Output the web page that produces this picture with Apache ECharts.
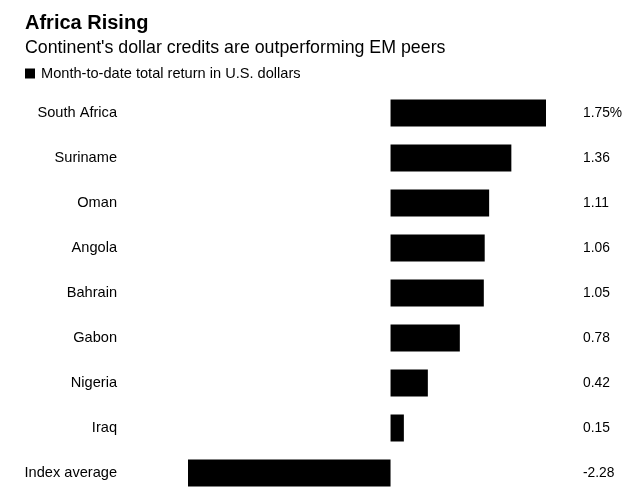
<!DOCTYPE html>
<html>
<head>
<meta charset="utf-8">
<script src="https://cdn.jsdelivr.net/npm/echarts@6/dist/echarts.min.js"></script>
<style>
html,body{margin:0;padding:0;background:#fff;}
#c{width:633px;height:502px;}
</style>
</head>
<body>
<div id="c"></div>
<script>
const categories = ["South Africa","Suriname","Oman","Angola","Bahrain","Gabon","Nigeria","Iraq","Index average"];
const values = [1.75,1.36,1.11,1.06,1.05,0.78,0.42,0.15,-2.28];
const valueLabels = ["1.75%","1.36","1.11","1.06","1.05","0.78","0.42","0.15","-2.28"];
const seriesName = "Month-to-date total return in U.S. dollars";

const chart = echarts.init(document.getElementById('c'));
const font = 'Liberation Sans, Arial, Helvetica, sans-serif';
chart.setOption({
  backgroundColor: '#fff',
  animation: false,
  title: [
    {text: 'Africa Rising', left: 20, top: 8, textStyle: {fontFamily: font, fontSize: 20, fontWeight: 'bold', color: '#000'}},
    {text: "Continent's dollar credits are outperforming EM peers", left: 20, top: 34, textStyle: {fontFamily: font, fontSize: 17.8, fontWeight: 'normal', color: '#000'}}
  ],
  legend: {
    left: 20, top: 61, itemWidth: 10, itemHeight: 10,
    icon: 'rect',
    textStyle: {fontFamily: font, fontSize: 14.6, color: '#000', padding: [0,0,0,1]},
    data: [seriesName]
  },
  grid: {left: 188, top: 90.5, width: 358, height: 405},
  xAxis: {type: 'value', min: -2.28, max: 1.75, show: false},
  yAxis: [
    {type: 'category', data: categories, inverse: true, position: 'left',
     axisLine: {show: false}, axisTick: {show: false}, splitLine: {show: false},
     axisLabel: {margin: 71, fontFamily: font, fontSize: 14.6, color: '#000'}},
    {type: 'category', data: valueLabels, inverse: true, position: 'right',
     axisLine: {show: false}, axisTick: {show: false}, splitLine: {show: false},
     axisLabel: {margin: 37, fontFamily: font, fontSize: 13.8, color: '#000', align: 'left'}}
  ],
  series: [{
    name: seriesName, type: 'bar', data: values, barWidth: 27, yAxisIndex: 0,
    itemStyle: {color: '#000'}
  }]
});
</script>
</body>
</html>
